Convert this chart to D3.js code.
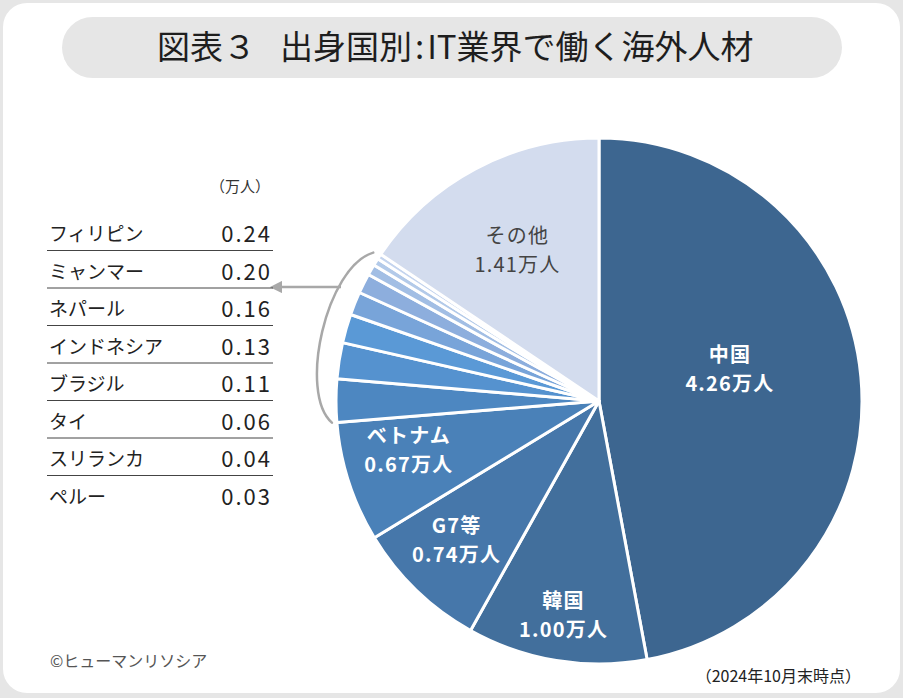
<!DOCTYPE html>
<html>
<head>
<meta charset="utf-8">
<script src="https://cdn.jsdelivr.net/npm/d3@7"></script>
<style>
  body { margin: 0; background: #e6e6e6; }
  svg { display: block; }
  text { font-family: "Noto Sans CJK JP", "Noto Sans", sans-serif; }
</style>
</head>
<body>
<svg id="chart" width="903" height="698"></svg>
<script>
// pie slices, clockwise from 12 o'clock (万人)
const countries = ["中国", "韓国", "G7等", "ベトナム", "フィリピン", "ミャンマー", "ネパール",
  "インドネシア", "ブラジル", "タイ", "スリランカ", "ペルー", "その他"];
const values = [4.26, 1.00, 0.74, 0.67, 0.24, 0.20, 0.16, 0.13, 0.11, 0.06, 0.04, 0.03, 1.41];
const colors = ["#3d6690", "#426f9c", "#4677aa", "#4a81b8", "#4d87c1", "#5592cf", "#5a99d6",
  "#78a4d9", "#8daedd", "#a2bee4", "#b3cae9", "#c4d4ee", "#d3dcee"];

// countries listed in the side table
const tableNames = ["フィリピン", "ミャンマー", "ネパール", "インドネシア", "ブラジル", "タイ", "スリランカ", "ペルー"];
const tableValues = [0.24, 0.20, 0.16, 0.13, 0.11, 0.06, 0.04, 0.03];

const svg = d3.select("#chart");
const W = 903, H = 698;

svg.append("rect").attr("width", W).attr("height", H).attr("fill", "#e6e6e6");
svg.append("rect")
  .attr("x", 3).attr("y", 3)
  .attr("width", W - 6).attr("height", H - 8)
  .attr("rx", 24)
  .attr("fill", "#fff");

// title pill
svg.append("rect")
  .attr("x", 62).attr("y", 17)
  .attr("width", 780).attr("height", 61)
  .attr("rx", 30.5)
  .attr("fill", "#e6e6e6");
const title = svg.append("text")
  .attr("x", 157).attr("y", 59)
  .attr("font-size", 33)
  .attr("fill", "#1e1e1e");
title.append("tspan").text("図表３");
title.append("tspan").attr("dx", 24).text("出身国別");
title.append("tspan").attr("dx", 3).text(":");
title.append("tspan").attr("dx", 3).text("IT業界で働く海外人材");

// pie
const cx = 599, cy = 401, R = 263;
const pie = d3.pie().sort(null).value(d => d.v);
const arcs = pie(countries.map((c, i) => ({ name: c, v: values[i], color: colors[i] })));
const arc = d3.arc().innerRadius(0).outerRadius(R);

const g = svg.append("g").attr("transform", `translate(${cx},${cy})`);
g.selectAll("path")
  .data(arcs)
  .join("path")
  .attr("d", arc)
  .attr("fill", d => d.data.color)
  .attr("stroke", "#fff")
  .attr("stroke-width", 3)
  .attr("stroke-linejoin", "round");

// in-slice labels: radius factor and vertical nudge per slice
const labelPlace = {
  "中国": [0.5, -20],
  "韓国": [0.83, -1],
  "G7等": [0.78, -9],
  "ベトナム": [0.76, -13],
  "その他": [0.66, 2]
};
arcs.filter(d => labelPlace[d.data.name]).forEach(d => {
  const [f, dy] = labelPlace[d.data.name];
  const p = d3.arc().innerRadius(R * f).outerRadius(R * f).centroid(d);
  const dark = d.data.name === "その他";
  const t = g.append("text")
    .attr("text-anchor", "middle")
    .attr("font-size", 20)
    .attr("font-weight", dark ? "normal" : "bold")
    .attr("letter-spacing", 1.2)
    .attr("fill", dark ? "#444" : "#fff");
  t.append("tspan").attr("x", p[0]).attr("y", p[1] + dy - 7).text(d.data.name);
  t.append("tspan").attr("x", p[0]).attr("y", p[1] + dy + 22).text(d3.format(".2f")(d.data.v) + "万人");
});

// bracket around the small slices + arrow to table
const small = arcs.filter(d => tableNames.includes(d.data.name));
const a0 = d3.min(small, d => d.startAngle), a1 = d3.max(small, d => d.endAngle);
const pt = (a, r) => [cx + r * Math.sin(a), cy - r * Math.cos(a)];
const pBot = pt(a0, R + 3), pTop = pt(a1, R + 3);
svg.append("path")
  .attr("d", `M${pTop[0] - 5},${pTop[1]} C${pTop[0] - 52},${pTop[1] + 14} ${pBot[0] - 36},${pBot[1] - 30} ${pBot[0] - 2},${pBot[1]}`)
  .attr("fill", "none")
  .attr("stroke", "#a8a8a8")
  .attr("stroke-width", 2.5)
  .attr("stroke-linecap", "round");

svg.append("defs").append("marker")
  .attr("id", "arrow")
  .attr("viewBox", "0 0 10 10")
  .attr("refX", 1).attr("refY", 5)
  .attr("markerWidth", 5).attr("markerHeight", 5)
  .attr("markerUnits", "strokeWidth")
  .attr("orient", "auto-start-reverse")
  .append("path")
  .attr("d", "M0,0 L10,5 L0,10 Z")
  .attr("fill", "#a8a8a8");
svg.append("line")
  .attr("x1", 341).attr("y1", 287)
  .attr("x2", 281).attr("y2", 287)
  .attr("stroke", "#a8a8a8")
  .attr("stroke-width", 2.5)
  .attr("marker-end", "url(#arrow)");

// side table
const y = d3.scaleBand().domain(tableNames).range([216, 516]);
const table = svg.append("g");
table.append("text")
  .attr("x", 270).attr("y", 192)
  .attr("text-anchor", "end")
  .attr("font-size", 15)
  .attr("fill", "#333")
  .text("（万人）");
const rows = table.selectAll("g.row")
  .data(tableNames.map((n, i) => ({ n, v: tableValues[i] })))
  .join("g")
  .attr("class", "row")
  .attr("transform", d => `translate(0,${y(d.n)})`);
rows.append("text")
  .attr("x", 49).attr("y", 25)
  .attr("font-size", 19)
  .attr("fill", "#222")
  .text(d => d.n);
rows.append("text")
  .attr("x", 272).attr("y", 26)
  .attr("text-anchor", "end")
  .attr("font-size", 22)
  .attr("letter-spacing", 2)
  .attr("fill", "#222")
  .text(d => d3.format(".2f")(d.v));
rows.filter((d, i) => i < tableNames.length - 1)
  .append("line")
  .attr("x1", 47).attr("x2", 273)
  .attr("y1", y.bandwidth() - 3).attr("y2", y.bandwidth() - 3)
  .attr("stroke", "#444")
  .attr("stroke-width", 1);

// footer
svg.append("text")
  .attr("x", 50).attr("y", 667)
  .attr("font-size", 16)
  .attr("fill", "#555")
  .text("©ヒューマンリソシア");
svg.append("text")
  .attr("x", 861).attr("y", 682)
  .attr("text-anchor", "end")
  .attr("font-size", 16)
  .attr("fill", "#222")
  .text("（2024年10月末時点）");
</script>
</body>
</html>
